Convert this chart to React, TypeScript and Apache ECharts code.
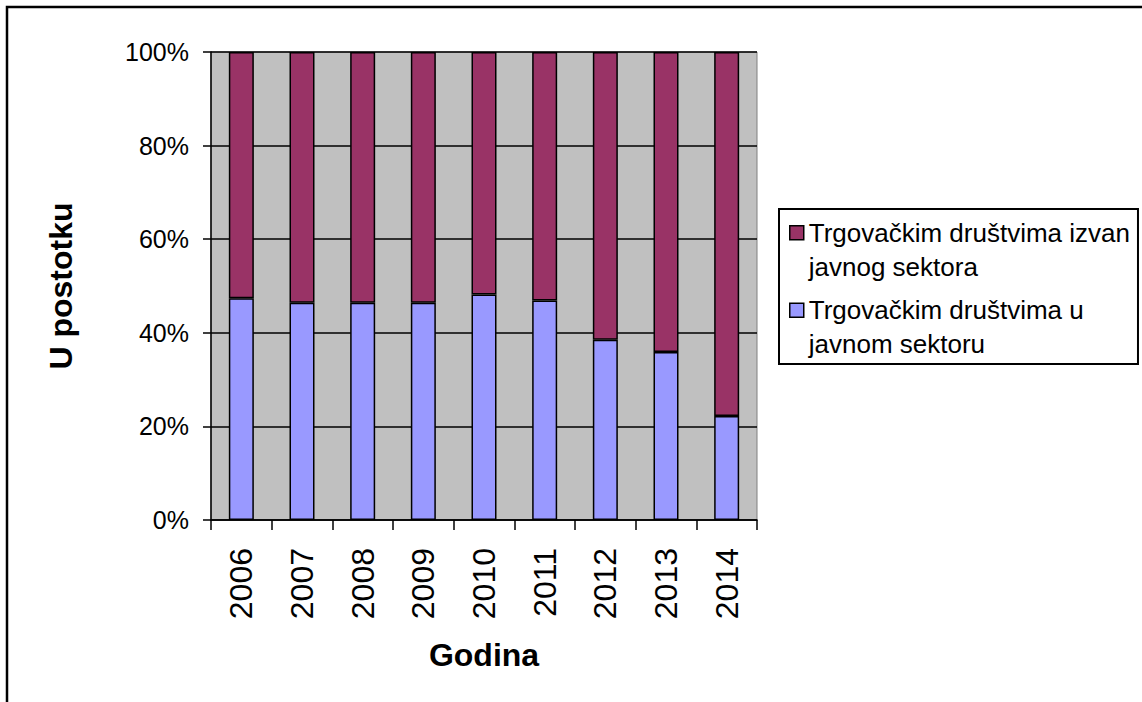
import React, { useEffect, useRef } from "react";
import * as echarts from "echarts";

const years = ["2006", "2007", "2008", "2009", "2010", "2011", "2012", "2013", "2014"];
const publicShare = [47.4, 46.4, 46.4, 46.4, 48.2, 46.9, 38.5, 35.9, 22.2];
const privateShare = [52.6, 53.6, 53.6, 53.6, 51.8, 53.1, 61.5, 64.1, 77.8];
const namePrivate = "Trgovačkim društvima izvan javnog sektora";
const namePublic = "Trgovačkim društvima u javnom sektoru";
const legendLabels: Record<string, string> = {
  [namePrivate]: "Trgovačkim društvima izvan\njavnog sektora",
  [namePublic]: "Trgovačkim društvima u\njavnom sektoru",
};
const yTicks = [0, 20, 40, 60, 80, 100];

const FONT = "Liberation Sans, Arial, sans-serif";

export default function App() {
  const ref = useRef<HTMLDivElement>(null);
  useEffect(() => {
    if (!ref.current) return;
    const chart = echarts.init(ref.current, null, { renderer: "svg" });
    chart.setOption({
      animation: false,
      backgroundColor: "#ffffff",
      textStyle: { fontFamily: FONT },
      grid: {
        left: 211,
        top: 52,
        width: 546,
        height: 468,
        show: true,
        backgroundColor: "#C0C0C0",
        borderColor: "#808080",
        borderWidth: 1,
        containLabel: false,
      },
      legend: {
        left: 779,
        top: 209,
        orient: "vertical",
        data: [namePrivate, namePublic],
        formatter: (n: string) => legendLabels[n] || n,
        itemWidth: 14,
        itemHeight: 68,
        itemGap: 8,
        icon: "path://M0,0 M0,68 M0,10 L14,10 L14,24 L0,24 Z",
        itemStyle: { borderColor: "#000", borderWidth: 1.5 },
        textStyle: { fontSize: 26, lineHeight: 34, color: "#000", fontFamily: FONT },
        borderColor: "#000",
        borderWidth: 2,
        padding: [6, 8, 2, 10],
        selectedMode: false,
      },
      xAxis: {
        type: "category",
        data: years,
        axisLine: { lineStyle: { color: "#000", width: 1.5 } },
        axisTick: { show: true, length: 10, interval: 0, lineStyle: { color: "#000", width: 1.5 } },
        axisLabel: { rotate: 90, interval: 0, fontSize: 32, color: "#000", margin: 28, fontFamily: FONT },
        name: "Godina",
        nameLocation: "middle",
        nameGap: 119,
        nameTextStyle: { fontSize: 32, fontWeight: "bold", color: "#000", fontFamily: FONT },
      },
      yAxis: {
        type: "value",
        min: yTicks[0],
        max: yTicks[yTicks.length - 1],
        interval: 20,
        axisLine: { show: true, lineStyle: { color: "#000", width: 1.5 } },
        axisTick: { show: true, length: 8, lineStyle: { color: "#000", width: 1.5 } },
        axisLabel: { formatter: "{value}%", fontSize: 25, color: "#000", margin: 22, fontFamily: FONT },
        splitLine: { show: true, lineStyle: { color: "#000", width: 1.5 } },
        name: "U postotku",
        nameLocation: "middle",
        nameRotate: 90,
        nameGap: 134,
        nameTextStyle: { fontSize: 32, fontWeight: "bold", color: "#000", fontFamily: FONT },
      },
      series: [
        {
          name: namePublic,
          type: "bar",
          stack: "total",
          data: publicShare,
          barWidth: 25,
          itemStyle: { color: "#9999FF", borderColor: "#000", borderWidth: 1.5 },
        },
        {
          name: namePrivate,
          type: "bar",
          stack: "total",
          data: privateShare,
          barWidth: 25,
          itemStyle: { color: "#993366", borderColor: "#000", borderWidth: 1.5 },
        },
      ],
      graphic: [
        {
          type: "rect",
          shape: { x: 7, y: 7, width: 1300, height: 900 },
          style: { fill: "none", stroke: "#000", lineWidth: 2.5 },
          silent: true,
          z: 100,
        },
      ],
    });
    return () => chart.dispose();
  }, []);
  return (
    <div
      ref={ref}
      style={{ position: "fixed", left: 0, top: 0, width: 1142, height: 702 }}
    />
  );
}
